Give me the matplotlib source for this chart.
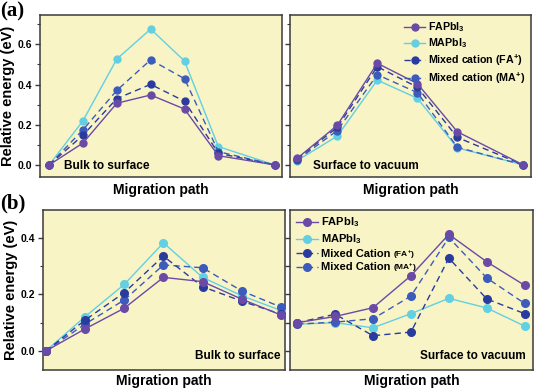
import matplotlib
matplotlib.use("Agg")
import matplotlib.pyplot as plt
from matplotlib.lines import Line2D
from matplotlib.ticker import MultipleLocator, NullLocator

plt.rcParams['font.family'] = ['Liberation Sans', 'DejaVu Sans']
plt.rcParams['font.weight'] = 'bold'
plt.rcParams['mathtext.fontset'] = 'custom'
plt.rcParams['mathtext.rm'] = 'Liberation Sans:bold'
plt.rcParams['mathtext.bf'] = 'Liberation Sans:bold'
plt.rcParams['mathtext.default'] = 'bf'

# ---------------- data ----------------
# (a) Bulk to surface
path_a1 = [0, 1, 2, 3, 4, 5, 6.67]
fa_a1 = [0, 0.109, 0.307, 0.348, 0.278, 0.046, 0]
ma_a1 = [0, 0.220, 0.527, 0.676, 0.517, 0.091, 0]
mixfa_a1 = [0, 0.148, 0.330, 0.401, 0.317, 0.058, 0]
mixma_a1 = [0, 0.175, 0.371, 0.523, 0.429, 0.066, 0]

# (a) Surface to vacuum
path_a2 = [0, 1, 2, 3, 4, 5.65]
fa_a2 = [0.033, 0.197, 0.506, 0.405, 0.165, 0]
ma_a2 = [0.022, 0.143, 0.422, 0.332, 0.085, 0]
mixfa_a2 = [0.030, 0.187, 0.489, 0.387, 0.137, 0]
mixma_a2 = [0.025, 0.171, 0.449, 0.360, 0.088, 0]

# (b) Bulk to surface
path_b1 = [0, 1, 2, 3, 4, 5, 6]
fa_b1 = [0, 0.078, 0.151, 0.260, 0.245, 0.183, 0.127]
ma_b1 = [0, 0.121, 0.235, 0.382, 0.260, 0.195, 0.143]
mixfa_b1 = [0, 0.109, 0.206, 0.335, 0.227, 0.176, 0.130]
mixma_b1 = [0, 0.095, 0.180, 0.304, 0.294, 0.212, 0.155]

# (b) Surface to vacuum
path_b2 = [0, 1, 2, 3, 4, 5, 6]
fa_b2 = [0.100, 0.122, 0.153, 0.266, 0.412, 0.315, 0.232]
ma_b2 = [0.095, 0.100, 0.082, 0.132, 0.186, 0.152, 0.088]
mixfa_b2 = [0.100, 0.130, 0.054, 0.067, 0.328, 0.184, 0.132]
mixma_b2 = [0.095, 0.102, 0.114, 0.194, 0.401, 0.258, 0.168]

labels_a = ['FAPbI$_3$', 'MAPbI$_3$', 'Mixed cation (FA$^{+}$)', 'Mixed cation (MA$^{+}$)']
labels_b = ['FAPbI$_3$', 'MAPbI$_3$', 'Mixed Cation', 'Mixed Cation']
labels_b_small = [None, None, '(FA$^{+}$)', '(MA$^{+}$)']

# ---------------- style ----------------
BG = '#f8f4c6'
C_FA = '#6a4aa6'
C_MA = '#62d0e2'
C_MFA = '#2a3b9e'
C_MMA = '#3c5bbb'
SPINE = '#3a3a3a'
DASH = (0, (4.5, 3))

fig = plt.figure(figsize=(5.34, 3.9), dpi=100)
W, H = 534.0, 390.0

def make_ax(x0, y0, x1, y1):
    return fig.add_axes([x0 / W, 1 - y1 / H, (x1 - x0) / W, (y1 - y0) / H])

ax_a1 = make_ax(40, 15, 282, 177)
ax_a2 = make_ax(290, 15, 531, 177)
ax_b1 = make_ax(43, 210, 285, 370)
ax_b2 = make_ax(290, 210, 533, 370)

def draw(ax, x, fa, ma, mfa, mma, ms):
    kw = dict(marker='o', markersize=ms, lw=1.0, clip_on=False, zorder=3)
    ax.plot(x, ma, color=C_MA, **kw)
    ax.plot(x, mma, color=C_MMA, ls=DASH, **kw)
    ax.plot(x, mfa, color=C_MFA, ls=DASH, **kw)
    ax.plot(x, fa, color=C_FA, **kw)

def style(ax, ylim, xlim, major, minor, show_labels, ylab, xpad):
    ax.set_facecolor(BG)
    ax.set_ylim(*ylim)
    ax.set_xlim(*xlim)
    ax.yaxis.set_major_locator(MultipleLocator(major))
    if minor:
        ax.yaxis.set_minor_locator(MultipleLocator(minor))
    else:
        ax.yaxis.set_minor_locator(NullLocator())
    ax.xaxis.set_major_locator(NullLocator())
    ax.xaxis.set_minor_locator(NullLocator())
    for s in ax.spines.values():
        s.set_color(SPINE)
        s.set_linewidth(1.1)
    ax.tick_params(axis='y', which='major', length=3.5, width=1.0, color=SPINE,
                   labelsize=7.5, pad=2)
    ax.tick_params(axis='y', which='minor', length=2, width=0.8, color=SPINE)
    if not show_labels:
        ax.tick_params(axis='y', labelleft=False)
    else:
        ax.set_yticklabels([f'{v:.1f}' for v in ax.get_yticks()])
        for t in ax.get_yticklabels():
            t.set_fontweight('bold')
    ax.set_xlabel('Migration path', fontsize=10, fontweight='bold', labelpad=xpad)
    if ylab:
        ax.set_ylabel('Relative energy (eV)', fontsize=10.5, fontweight='bold', labelpad=2)

draw(ax_a1, path_a1, fa_a1, ma_a1, mixfa_a1, mixma_a1, 5)
draw(ax_a2, path_a2, fa_a2, ma_a2, mixfa_a2, mixma_a2, 5)
draw(ax_b1, path_b1, fa_b1, ma_b1, mixfa_b1, mixma_b1, 5.5)
draw(ax_b2, path_b2, fa_b2, ma_b2, mixfa_b2, mixma_b2, 5.5)

style(ax_a1, (-0.06, 0.746), (-0.27, 6.88), 0.2, 0.1, True, True, 4)
style(ax_a2, (-0.06, 0.746), (-0.18, 5.84), 0.2, 0.1, False, False, 4)
style(ax_b1, (-0.067, 0.498), (-0.07, 6.1), 0.2, 0.1, True, True, 3)
style(ax_b2, (-0.067, 0.498), (-0.19, 6.22), 0.1, None, False, False, 3)

# annotations
ax_a1.text(0.1, 0.07, 'Bulk to surface', transform=ax_a1.transAxes, fontsize=8.5,
           fontweight='bold', va='center', ha='left')
ax_a2.text(0.095, 0.07, 'Surface to vacuum', transform=ax_a2.transAxes, fontsize=8.5,
           fontweight='bold', va='center', ha='left')
ax_b1.text(0.98, 0.085, 'Bulk to surface', transform=ax_b1.transAxes, fontsize=8.5,
           fontweight='bold', va='center', ha='right')
ax_b2.text(0.97, 0.085, 'Surface to vacuum', transform=ax_b2.transAxes, fontsize=8.5,
           fontweight='bold', va='center', ha='right')

fig.text(0 / W, 1 - 11 / H, '(a)', fontsize=15, fontweight='bold',
         family=['Liberation Serif', 'DejaVu Serif'], va='center', ha='left')
fig.text(0 / W, 1 - 203 / H, '(b)', fontsize=15, fontweight='bold',
         family=['Liberation Serif', 'DejaVu Serif'], va='center', ha='left')

def handles(ms):
    return [
        Line2D([], [], color=C_FA, marker='o', markersize=ms, lw=1.0),
        Line2D([], [], color=C_MA, marker='o', markersize=ms, lw=1.0),
        Line2D([], [], color=C_MFA, marker='o', markersize=ms, lw=1.0, ls=DASH),
        Line2D([], [], color=C_MMA, marker='o', markersize=ms, lw=1.0, ls=DASH),
    ]

ax_a2.legend(handles(5), labels_a, loc='upper right', frameon=False,
             prop={'size': 7.7, 'weight': 'bold'}, handlelength=2.0, handletextpad=0.3,
             labelspacing=0.22, borderaxespad=0.1, bbox_to_anchor=(1.0, 1.0))
leg_b = ax_b2.legend(handles(5.5), labels_b, loc='upper left', frameon=False,
                     prop={'size': 8, 'weight': 'bold'}, handlelength=2.0,
                     handletextpad=0.3, labelspacing=0.28, borderaxespad=0.1)

fig.canvas.draw()
renderer = fig.canvas.get_renderer()
inv = fig.transFigure.inverted()
for txt, small in zip(leg_b.get_texts(), labels_b_small):
    if small is None:
        continue
    bb = txt.get_window_extent(renderer)
    x, y = inv.transform((bb.x1 + 2, bb.y0 + 2.4))
    fig.text(x, y, small, fontsize=6, fontweight='bold', va='baseline', ha='left')

fig.savefig('out.png', dpi=100, facecolor='white')
